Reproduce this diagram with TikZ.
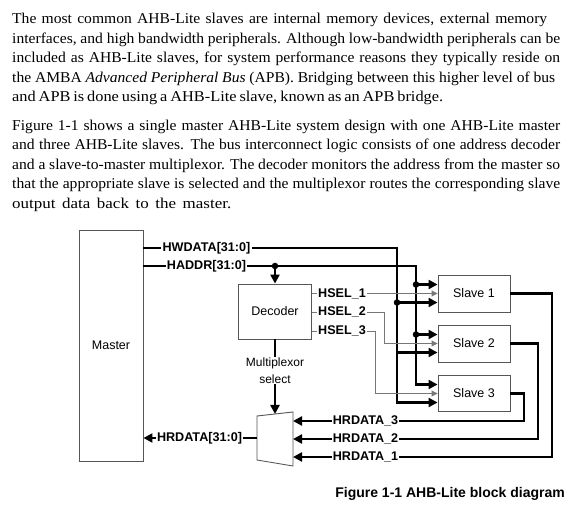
\documentclass[tikz,border=0pt]{standalone}
\usepackage{fontspec}
\setmainfont{Liberation Serif}[FakeStretch=1.04]
\newfontfamily\widerm{Liberation Serif}[FakeStretch=1.13]
\newfontfamily\widermb{Liberation Serif}[FakeStretch=1.09]
\setsansfont{Liberation Sans}
\usetikzlibrary{arrows.meta}
\definecolor{boxgray}{HTML}{555555}
\definecolor{selgray}{HTML}{777777}
\begin{document}
\begin{tikzpicture}[x=1pt,y=-1pt,
  box/.style={draw=boxgray, line width=0.9pt, font=\sffamily\fontsize{12.5}{14}\selectfont, inner sep=0pt},
  lbl/.style={font=\sffamily\bfseries\fontsize{12.6}{14}\selectfont, inner sep=1pt},
  bus/.style={line width=2.5pt},
  busarrow/.style={bus, -{Triangle[length=9pt,width=9pt]}},
  sel/.style={draw=selgray, line width=0.9pt},
  selarrow/.style={sel, -{Triangle[length=6pt,width=6pt]}},
  dot/.style={circle, fill, inner sep=0pt, minimum size=6.5pt},
  ptext/.style={anchor=base west, inner sep=0pt, font=\fontsize{15}{17}\selectfont}
]
\useasboundingbox (0,0) rectangle (576,518);
% paragraph text
\node[ptext] (p11) at (12,24)    {\makebox[535pt][s]{The most common AHB-Lite slaves are internal memory devices, external memory}};
\node[ptext] (p12) at (12,43.5)  {\makebox[548pt][s]{interfaces, and high bandwidth peripherals. Although low-bandwidth peripherals can be}};
\node[ptext] (p13) at (12,63)    {\makebox[548pt][s]{included as AHB-Lite slaves, for system performance reasons they typically reside on}};
\node[ptext] (p14) at (12,82.5)  {\makebox[543pt][s]{the AMBA \textit{Advanced Peripheral Bus} (APB). Bridging between this higher level of bus}};
\node[ptext] (p15) at (12,102)   {\widermb\makebox[431pt][s]{and APB is done using a AHB-Lite slave, known as an APB bridge.}};
\node[ptext] (p21) at (12,130.5) {\makebox[548pt][s]{Figure 1-1 shows a single master AHB-Lite system design with one AHB-Lite master}};
\node[ptext] (p22) at (12,150)   {\makebox[548pt][s]{and three AHB-Lite slaves. The bus interconnect logic consists of one address decoder}};
\node[ptext] (p23) at (12,169.5) {\makebox[548pt][s]{and a slave-to-master multiplexor. The decoder monitors the address from the master so}};
\node[ptext] (p24) at (12,189)   {\makebox[548pt][s]{that the appropriate slave is selected and the multiplexor routes the corresponding slave}};
\node[ptext] (p25) at (12,208.5) {\widerm\makebox[219pt][s]{output data back to the master.}};

% blocks
\node[box, minimum width=64pt, minimum height=231pt] (master) at (111,345.5) {Master};
\node[box, minimum width=73pt, minimum height=55pt] (dec) at (275,311.5) {Decoder};
\node[box, minimum width=72pt, minimum height=37pt] (s1) at (474,293.5) {Slave 1};
\node[box, minimum width=72pt, minimum height=37pt] (s2) at (474,343.5) {Slave 2};
\node[box, minimum width=72pt, minimum height=36pt] (s3) at (474,393.5) {Slave 3};

\foreach \s in {s1,s2,s3}{
  \coordinate (\s a) at ([yshift=9pt]\s.west);
  \coordinate (\s s) at (\s.west);
  \coordinate (\s d) at ([yshift=-9pt]\s.west);
}

% multiplexor
\draw[draw=boxgray, line width=0.9pt, fill=white] (257,416) -- (293,412) -- (293,466) -- (257,460) -- cycle;
\coordinate (muxw) at (257,438);
\coordinate (muxn) at (275,414);
\coordinate (muxe) at (293,438);

% HWDATA
\node[lbl] (hw) at (206.5,248) {HWDATA[31:0]};
\draw[bus] (master.east |- hw) -- (hw.west);
\coordinate (vd) at (397,248);
\draw[busarrow] (hw.east) -- (vd) |- (s3d);
\draw[busarrow] (vd |- s1d) -- (s1d);
\draw[busarrow] (vd |- s2d) -- (s2d);
\node[dot] (dd1) at (vd |- s1d) {};

% HADDR
\node[lbl] (ha) at (206.5,266) {HADDR[31:0]};
\draw[bus] (master.east |- ha) -- (ha.west);
\coordinate (va) at (416,266);
\draw[busarrow] (ha.east) -- (va) |- (s3a);
\draw[busarrow] (va |- s1a) -- (s1a);
\draw[busarrow] (va |- s2a) -- (s2a);
\node[dot] (da1) at (va |- s1a) {};
\node[dot] (da2) at (va |- s2a) {};
\coordinate (jd) at (dec.north |- ha);
\draw[busarrow] (jd) -- (dec.north);
\node[dot] (dj) at (jd) {};

% HSEL
\node[lbl] (hs1) at (342,293.5) {HSEL\_1};
\node[lbl] (hs2) at (342,312) {HSEL\_2};
\node[lbl] (hs3) at (342,331) {HSEL\_3};
\foreach \h in {hs1,hs2,hs3}{
  \draw[sel] (dec.east |- \h) -- (\h.west);
}
\coordinate (b2) at (384,312);
\coordinate (b3) at (375,331);
\draw[selarrow] (hs1.east) -- (s1s);
\draw[selarrow] (hs2.east) -- (b2) |- (s2s);
\draw[selarrow] (hs3.east) -- (b3) |- (s3s);

% HRDATA
\node[lbl] (hr3) at (365.5,421) {HRDATA\_3};
\node[lbl] (hr2) at (365.5,439) {HRDATA\_2};
\node[lbl] (hr1) at (365.5,457) {HRDATA\_1};
\coordinate (o1) at (552,293.5);
\coordinate (o2) at (538,343.5);
\coordinate (o3) at (524,393.5);
\draw[bus] (s1.east) -- (o1) |- (hr1.east);
\draw[bus] (s2.east) -- (o2) |- (hr2.east);
\draw[bus] (s3.east) -- (o3) |- (hr3.east);
\draw[busarrow] (hr1.west) -- (hr1 -| muxe);
\draw[busarrow] (hr2.west) -- (hr2 -| muxe);
\draw[busarrow] (hr3.west) -- (hr3 -| muxe);

% multiplexor select
\node[font=\sffamily\fontsize{12}{16.5}\selectfont, align=center, inner sep=1pt] (msel) at (275,370.5) {Multiplexor\\select};
\draw[bus] (dec.south) -- (msel.north);
\draw[busarrow] (msel.south) -- (muxn);

% HRDATA[31:0]
\node[lbl] (hrd) at (199.5,438) {HRDATA[31:0]};
\draw[bus] (muxw) -- (hrd.east);
\draw[busarrow] (hrd.west) -- (master.east |- hrd);

% caption
\node[font=\sffamily\bfseries\fontsize{14}{16}\selectfont, anchor=east, inner sep=0pt] (cap) at (565,494) {Figure 1-1 AHB-Lite block diagram};
\end{tikzpicture}
\end{document}
